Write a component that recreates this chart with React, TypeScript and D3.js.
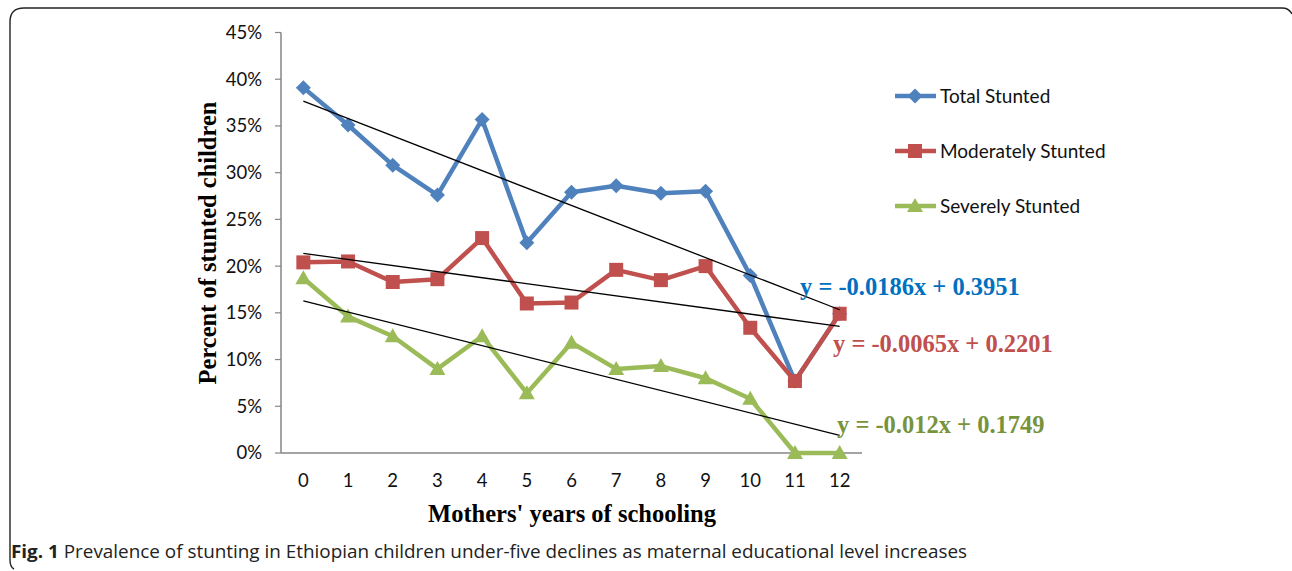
import React from "react";
import * as d3 from "d3";

// years of schooling (categories)
const years = ["0", "1", "2", "3", "4", "5", "6", "7", "8", "9", "10", "11", "12"];

// percent stunted
const totalStunted = [39.1, 35.1, 30.8, 27.6, 35.7, 22.5, 27.9, 28.6, 27.8, 28.0, 19.0, 7.7, 14.9];
const moderatelyStunted = [20.4, 20.5, 18.3, 18.6, 23.0, 16.0, 16.1, 19.6, 18.5, 20.0, 13.4, 7.7, 14.9];
const severelyStunted = [18.7, 14.6, 12.5, 9.0, 12.5, 6.4, 11.8, 9.0, 9.3, 8.0, 5.8, 0, 0];

const seriesNames = ["Total Stunted", "Moderately Stunted", "Severely Stunted"];
// linear trend y = slope * x + intercept, x = 1..13 (Excel index)
const trendSlopes = [-0.0186, -0.0065, -0.012];
const trendIntercepts = [0.3951, 0.2201, 0.1749];
const trendLabels = ["y = -0.0186x + 0.3951", "y = -0.0065x + 0.2201", "y = -0.012x + 0.1749"];

const yTicks = [0, 0.05, 0.1, 0.15, 0.2, 0.25, 0.3, 0.35, 0.4, 0.45];

const colors = ["#4F81BD", "#C0504D", "#9BBB59"];
const eqColors = ["#0070C0", "#C0504D", "#77933C"];

const W = 1292;
const H = 571;
const plot = { left: 281, right: 862, top: 32.5, bottom: 453 };

const sans = "Lato, 'Open Sans', sans-serif";
const serif = "'Liberation Serif', 'Times New Roman', serif";

function Marker({ kind, x, y, color }: { kind: number; x: number; y: number; color: string }) {
  if (kind === 0) {
    const r = 7.5;
    return <path d={`M${x},${y - r}L${x + r},${y}L${x},${y + r}L${x - r},${y}Z`} fill={color} />;
  }
  if (kind === 1) {
    return <rect x={x - 7} y={y - 7} width={14} height={14} fill={color} />;
  }
  return <path d={`M${x},${y - 8}L${x + 8},${y + 6}L${x - 8},${y + 6}Z`} fill={color} />;
}

export default function App() {
  const x = d3.scaleBand<string>().domain(years).range([plot.left, plot.right]).padding(0);
  const cx = (c: string) => (x(c) as number) + x.bandwidth() / 2;
  const y = d3.scaleLinear().domain([0, 0.45]).range([plot.bottom, plot.top]);

  const allSeries = [totalStunted, moderatelyStunted, severelyStunted];
  const line = d3
    .line<number>()
    .x((_, i) => cx(years[i]))
    .y((v) => y(v / 100));

  const fmt = d3.format(".0%");

  const eqPos = [
    { x: 800, y: 295 },
    { x: 833, y: 352 },
    { x: 837, y: 433 },
  ];
  const legendY = [96, 151, 206];

  return (
    <svg
      width={W}
      height={H}
      style={{ position: "absolute", left: 0, top: 0, background: "#fff" }}
    >
      {/* figure frame */}
      <path
        d={`M14,569 Q10,567 10,560 L10,22 Q10,8 24,8 L1282,8 Q1289,8 1292,14`}
        fill="none"
        stroke="#222"
        strokeWidth={1.4}
      />

      {/* axes */}
      <line x1={plot.left} x2={plot.left} y1={plot.top} y2={plot.bottom} stroke="#868686" strokeWidth={1.5} />
      <line x1={plot.left} x2={plot.right} y1={plot.bottom} y2={plot.bottom} stroke="#868686" strokeWidth={1.5} />
      {yTicks.map((t) => (
        <g key={t}>
          <line x1={plot.left - 6} x2={plot.left} y1={y(t)} y2={y(t)} stroke="#868686" strokeWidth={1.2} />
          <text x={262} y={y(t)} dy="0.35em" textAnchor="end" fontFamily={sans} fontSize={18.5} fill="#111">
            {fmt(t)}
          </text>
        </g>
      ))}
      {years.map((c) => (
        <text key={c} x={cx(c)} y={481} dy="0.35em" textAnchor="middle" fontFamily={sans} fontSize={18.5} fill="#111">
          {c}
        </text>
      ))}

      {/* axis titles */}
      <text
        transform={`translate(216,243) rotate(-90)`}
        textAnchor="middle"
        fontFamily={serif}
        fontWeight="bold"
        fontSize={24.5}
        fill="#000"
      >
        Percent of stunted children
      </text>
      <text x={572} y={522} textAnchor="middle" fontFamily={serif} fontWeight="bold" fontSize={24.5} fill="#000">
        Mothers' years of schooling
      </text>

      {/* series */}
      {allSeries.map((s, k) => (
        <g key={seriesNames[k]}>
          <path d={line(s) || ""} fill="none" stroke={colors[k]} strokeWidth={4.5} strokeLinejoin="round" />
          {s.map((v, i) => (
            <Marker key={i} kind={k} x={cx(years[i])} y={y(v / 100)} color={colors[k]} />
          ))}
        </g>
      ))}

      {/* trendlines */}
      {trendSlopes.map((m, k) => (
        <line
          key={k}
          x1={cx(years[0])}
          y1={y(m * 1 + trendIntercepts[k])}
          x2={cx(years[years.length - 1])}
          y2={y(m * years.length + trendIntercepts[k])}
          stroke="#000"
          strokeWidth={1.3}
        />
      ))}

      {/* trend equations */}
      {trendLabels.map((t, k) => (
        <text key={t} x={eqPos[k].x} y={eqPos[k].y} fontFamily={serif} fontWeight="bold" fontSize={24.5} fill={eqColors[k]}>
          {t}
        </text>
      ))}

      {/* legend */}
      {seriesNames.map((n, k) => (
        <g key={n}>
          <line x1={895} x2={936} y1={legendY[k]} y2={legendY[k]} stroke={colors[k]} strokeWidth={4.5} />
          <Marker kind={k} x={915} y={legendY[k]} color={colors[k]} />
          <text x={940} y={legendY[k]} dy="0.35em" fontFamily={sans} fontSize={19} fill="#111">
            {n}
          </text>
        </g>
      ))}

      {/* caption */}
      <text
        x={11}
        y={558}
        fontFamily="'Open Sans', sans-serif"
        fontSize={18}
        fill="#222"
        textLength={956}
        lengthAdjust="spacingAndGlyphs"
      >
        <tspan fontWeight="bold">Fig. 1</tspan>
        <tspan> Prevalence of stunting in Ethiopian children under-five declines as maternal educational level increases</tspan>
      </text>
    </svg>
  );
}
